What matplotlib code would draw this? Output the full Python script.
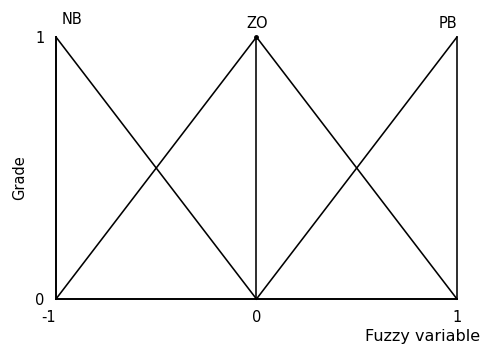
import matplotlib
matplotlib.use("Agg")
import matplotlib.pyplot as plt

# Triangular membership functions on the normalised universe [-1, 1]
labels = ["NB", "ZO", "PB"]
nb_x = [-1, 0]
nb_y = [1, 0]
zo_x = [-1, 0, 1]
zo_y = [0, 1, 0]
pb_x = [0, 1]
pb_y = [0, 1]
# vertical guide lines at the peaks of ZO and PB
guide_x = [0, 1]
x_ticks = [-1, 0, 1]
x_tick_labels = ["-1", "0", "1"]
y_ticks = [0, 1]
y_tick_labels = ["0", "1"]

fig = plt.figure(figsize=(4.98, 3.47), dpi=100)
ax = fig.add_axes([0.1124, 0.1383, 0.8052, 0.755])

lw = 1.15
ax.plot(nb_x, nb_y, color="black", lw=lw, clip_on=False)
ax.plot(zo_x, zo_y, color="black", lw=lw, clip_on=False)
ax.plot(pb_x, pb_y, color="black", lw=lw, clip_on=False)
for gx in guide_x:
    ax.plot([gx, gx], [0, 1], color="black", lw=lw, clip_on=False)
ax.plot([0], [1], "o", color="black", ms=2.5, clip_on=False)

ax.set_xlim(-1, 1)
ax.set_ylim(0, 1)
ax.spines["top"].set_visible(False)
ax.spines["right"].set_visible(False)
ax.spines["left"].set_linewidth(1.4)
ax.spines["bottom"].set_linewidth(1.4)

fs = 10.5
ax.set_xticks(x_ticks)
ax.set_xticklabels(x_tick_labels)
ax.set_yticks(y_ticks)
ax.set_yticklabels(y_tick_labels)
ax.tick_params(axis="x", length=0, labelsize=fs, pad=8)
ax.tick_params(axis="y", length=0, labelsize=fs, pad=8)
ax.get_xticklabels()[0].set_horizontalalignment("right")
ax.get_xticklabels()[0].set_x(-0.995)

# membership function names above each peak
name_pos = [(-0.92, 1.065), (0.005, 1.053), (0.955, 1.05)]
for name, (px, py) in zip(labels, name_pos):
    ax.text(px, py, name, ha="center", va="center", fontsize=fs)

ax.text(-0.091, 0.465, "Grade", transform=ax.transAxes, rotation=90,
        ha="center", va="center", fontsize=fs)
ax.text(0.913, -0.145, "Fuzzy variable", transform=ax.transAxes,
        ha="center", va="center", fontsize=11.5)

for s in ax.spines.values():
    s.set_clip_on(False)

fig.savefig("out.png", dpi=100)
